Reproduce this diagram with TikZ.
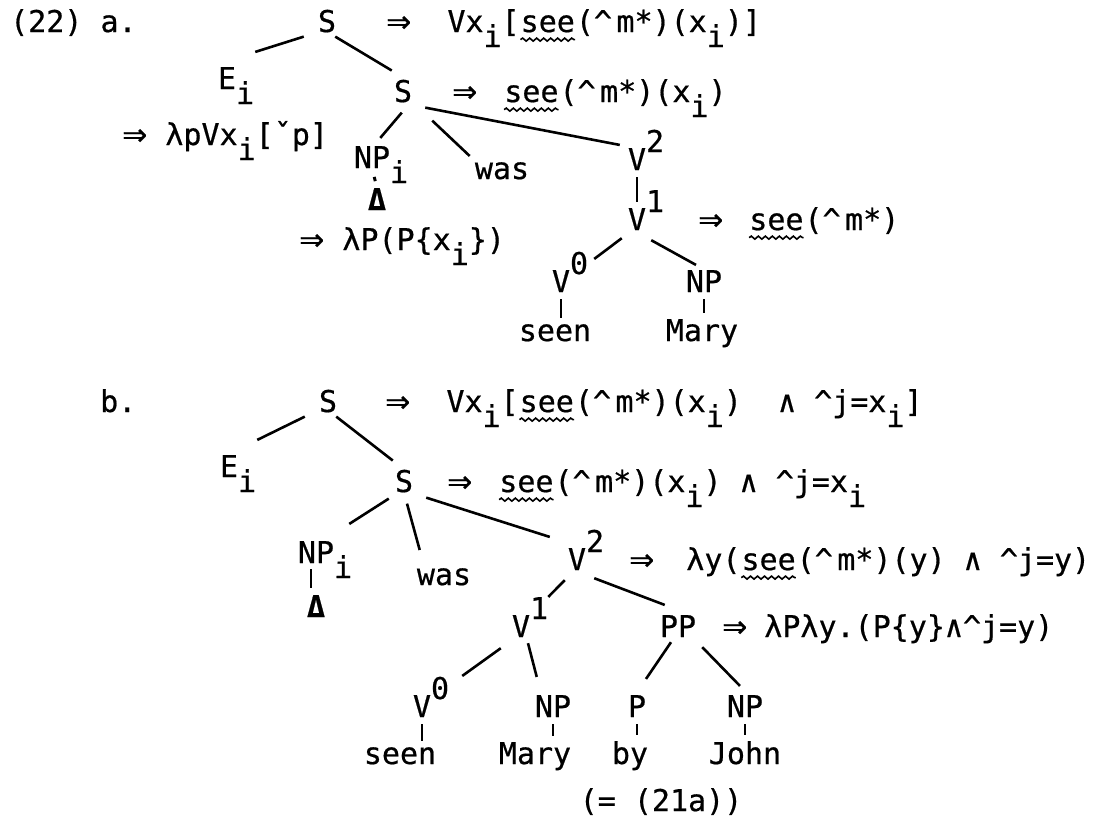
\documentclass[tikz,border=0pt]{standalone}
\usepackage{fontspec}
\setmainfont[FakeBold=0.6]{DejaVu Sans Mono}
\newfontfamily\symf[FakeBold=0.6]{DejaVu Sans}
\usetikzlibrary{decorations.pathmorphing}
\newcommand\sbi[1]{\raisebox{-0.5em}{#1}}
\newcommand\spi[1]{\raisebox{0.6em}{#1}}
\newcommand\ix{\rlap{\smash{\sbi{i}}}}
\newcommand\arr{{\symf ⇒}}
\newcommand\cm{\^{}\kern.15em m}
\newcommand\wsee{\tikz[baseline=(w.base)]{\node[inner sep=0pt,anchor=base](w){see};\draw[line width=1.6pt,decorate,decoration={snake,amplitude=1.5pt,segment length=7pt}] ([yshift=-7pt]w.south west)--([yshift=-7pt]w.south east);}}
\tikzset{
  lab/.style={inner sep=0pt,anchor=base,font=\fontsize{30}{36}\selectfont},
  sem/.style={inner sep=0pt,anchor=base west,font=\fontsize{30}{36}\selectfont},
  tri/.style={lab,font=\fontsize{30}{36}\selectfont\bfseries},
  br/.style={line width=2.6pt},
  tick/.style={line width=2.8pt,shorten <=7pt,shorten >=6pt},
}
\begin{document}
\begin{tikzpicture}[x=1pt,y=-1pt]
\useasboundingbox[fill=white] (0,0) rectangle (1095,820);
% ---------- (22) a ----------
\node[sem] (num) at (10,32) {(22) a.};
\node[lab] (sa) at (327,32) {S};
\node[sem] (sa-f) at (386,32) {\arr\ \ Vx\sbi{i}[\wsee(\cm*)(x\sbi{i})]};
\node[lab] (ea) at (227,89) {E\ix};
\node[lab] (sa2) at (403,102) {S};
\node[sem] (sa2-f) at (452,102) {\arr\hspace{26pt}\wsee(\cm*)(x\sbi{i})};
\node[sem] (ea-f) at (122,145) {\arr\ λpVx\sbi{i}[ˇp]};
\node[lab] (npa) at (372,168) {NP\ix};
\node[lab] (wasa) at (502,179) {was};
\node[lab] (v2a) at (637,170) {V\rlap{\smash{\spi{2}}}};
\node[tri] (dela) at (377,210) {Δ};
\node[lab] (v1a) at (637,230) {V\rlap{\smash{\spi{1}}}};
\node[sem] (v1a-f) at (698,230) {\arr\hspace{25pt}\wsee(\cm*)};
\node[sem] (npa-f) at (299,250) {\arr\ λP(P\{x\sbi{i}\})};
\node[lab] (v0a) at (561,292) {V\rlap{\smash{\spi{0}}}};
\node[lab] (npa2) at (704,292) {NP};
\node[lab] (seena) at (555,341) {seen};
\node[lab] (marya) at (702,341) {Mary};
\draw[br] ([shift={(-14,4)}]sa.south west) -- ([shift={(19,-15)}]ea.north east);
\draw[br] ([shift={(-1,4)}]sa.south east) -- ([shift={(-2,-9)}]sa2.north west);
\draw[br] ([shift={(8,10)}]sa2.south west) -- ([shift={(-10,-8)}]npa.north east);
\draw[br] ([shift={(20,18)}]sa2.south east) -- ([shift={(-5,-6)}]wasa.north west);
\draw[br] ([shift={(13,5)}]sa2.south east) -- ([shift={(-8,-3)}]v2a.north west);
\draw[line width=3pt,shorten <=9pt,shorten >=7pt] (npa.south) -- (dela.north);
\draw[tick] (v2a.south) -- (v1a.north);
\draw[br] ([shift={(-6,8)}]v1a.south west) -- ([shift={(24,-11)}]v0a.north east);
\draw[br] ([shift={(5,10)}]v1a.south east) -- ([shift={(-8,-5)}]npa2.north);
\draw[tick] (v0a.south) -- (v0a.south |- seena.north);
\draw[tick] (npa2.south) -- (npa2.south |- marya.north);
% ---------- b ----------
\node[sem] (lb) at (100,412) {b.};
\node[lab] (sb) at (328,412) {S};
\node[sem] (sb-f) at (385,412) {\arr\ \ Vx\sbi{i}[\wsee(\cm*)(x\sbi{i})\ \ ∧\ \^{}j=x\sbi{i}]};
\node[lab] (eb) at (229,477) {E\ix};
\node[lab] (sb2) at (404,492) {S};
\node[sem] (sb2-f) at (447,492) {\arr\hspace{26pt}\wsee(\cm*)(x\sbi{i}) ∧ \^{}j=x\sbi{i}};
\node[lab] (npb) at (316,563) {NP\ix};
\node[lab] (wasb) at (444,585) {was};
\node[lab] (v2b) at (577,570) {V\rlap{\smash{\spi{2}}}};
\node[sem] (v2b-f) at (629,570) {\arr\hspace{32pt}λy(\wsee(\cm*)(y) ∧ \^{}j=y)};
\node[tri] (delb) at (316,617) {Δ};
\node[lab] (v1b) at (521,637) {V\rlap{\smash{\spi{1}}}};
\node[lab] (ppb) at (678,637) {PP};
\node[sem] (ppb-f) at (722,637) {\arr\hspace{17pt}λPλy.(P\{y\}∧\^{}j=y)};
\node[lab] (v0b) at (422,717) {V\rlap{\smash{\spi{0}}}};
\node[lab] (npb2) at (553,717) {NP};
\node[lab] (pb) at (637,717) {P};
\node[lab] (npb3) at (745,717) {NP};
\node[lab] (seenb) at (400,764) {seen};
\node[lab] (maryb) at (535,764) {Mary};
\node[lab] (byb) at (630,764) {by};
\node[lab] (johnb) at (745,764) {John};
\node[lab] (ref) at (661,811) {(= (21a))};
\draw[br] ([shift={(-14,4)}]sb.south west) -- ([shift={(19,-15)}]eb.north east);
\draw[br] ([shift={(-1,4)}]sb.south east) -- ([shift={(-2,-9)}]sb2.north west);
\draw[br] ([shift={(-6,6)}]sb2.south west) -- ([shift={(15,-17)}]npb.north east);
\draw[br] ([shift={(3,11)}]sb2.south) -- ([shift={(3,-18)}]wasb.north west);
\draw[br] ([shift={(13,5)}]sb2.south east) -- ([shift={(-18,-11)}]v2b.north west);
\draw[line width=2.8pt] ([shift={(-5,6)}]npb.south) -- ([shift={(-5,-7)}]delb.north);
\draw[br] ([shift={(-3,10)}]v2b.south west) -- ([shift={(18,-18)}]v1b.north east);
\draw[br] ([shift={(8,8)}]v2b.south east) -- ([shift={(5,-10)}]ppb.north west);
\draw[br] ([shift={(-11,11)}]v1b.south west) -- ([shift={(31,-19)}]v0b.north east);
\draw[br] ([shift={(7,6)}]v1b.south) -- ([shift={(2,-18)}]npb2.north west);
\draw[br] ([shift={(-7,5)}]ppb.south) -- ([shift={(9,-16)}]pb.north);
\draw[br] ([shift={(6,10)}]ppb.south east) -- ([shift={(-5,-9)}]npb3.north);
\draw[tick] (v0b.south) -- (v0b.south |- seenb.north);
\draw[tick] (npb2.south) -- (npb2.south |- maryb.north);
\draw[tick] (pb.south) -- (pb.south |- byb.north);
\draw[tick] (npb3.south) -- (npb3.south |- johnb.north);
\end{tikzpicture}
\end{document}
